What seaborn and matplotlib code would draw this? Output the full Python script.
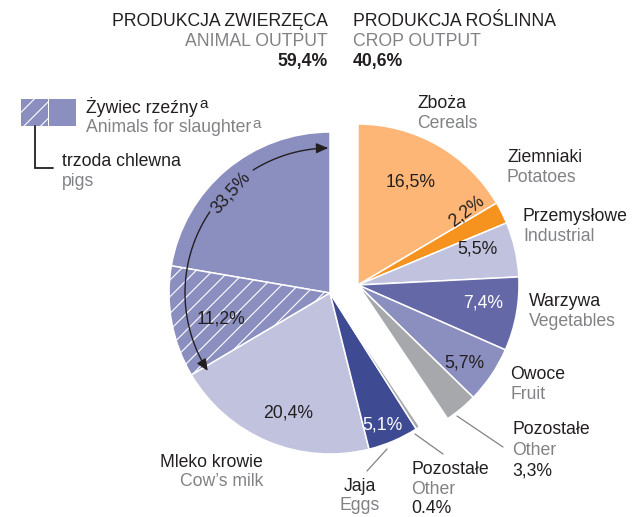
import numpy as np
import matplotlib
matplotlib.use("Agg")
import matplotlib.pyplot as plt
import seaborn as sns
from matplotlib.patches import Rectangle, FancyArrowPatch
from matplotlib.path import Path

# ---------------- data ----------------
animal_pl = ["Żywiec rzeźny (bez trzody)", "Trzoda chlewna", "Mleko krowie", "Jaja", "Pozostałe"]
animal_en = ["Animals for slaughter (other)", "Pigs", "Cow’s milk", "Eggs", "Other"]
animal_values = [22.3, 11.2, 20.4, 5.1, 0.4]
animal_colors = ["#8b8fbf", "#8b8fbf", "#c0c2de", "#3e4b93", "#a6a8ab"]

crop_pl = ["Zboża", "Ziemniaki", "Przemysłowe", "Warzywa", "Owoce", "Pozostałe"]
crop_en = ["Cereals", "Potatoes", "Industrial", "Vegetables", "Fruit", "Other"]
crop_values = [16.5, 2.2, 5.5, 7.4, 5.7, 3.3]
crop_colors = ["#fdb676", "#f6921e", "#c0c2de", "#6468a6", "#8b8fbf", "#a6a8ab"]

slaughter_total = 33.5
animal_total = 59.4
crop_total = 40.6

# ---------------- style ----------------
sns.set_style("white")
plt.rcParams["font.family"] = ["Liberation Sans", "DejaVu Sans"]
plt.rcParams["hatch.linewidth"] = 0.8

W, H = 637, 517
BLACK = "#231f20"
GREY = "#808285"
FS = 12.7

fig = plt.figure(figsize=(W / 100, H / 100), dpi=100)
ax = fig.add_axes([0, 0, 1, 1])

def P(x, y):
    return (x, H - y)

R = 161
c_animal = P(330, 293)
c_crop = P(358, 285)

wp = dict(edgecolor="white", linewidth=1.1)
aw, _ = ax.pie(animal_values + [crop_total], colors=animal_colors + ["none"],
               startangle=90, counterclock=True, center=c_animal, radius=R,
               wedgeprops=wp)
aw[-1].set_visible(False)
aw[1].set_hatch("//")

cw, _ = ax.pie(crop_values + [animal_total], colors=crop_colors + ["none"],
               startangle=90, counterclock=False, center=c_crop, radius=R,
               wedgeprops=wp)
cw[-1].set_visible(False)

ax.set_xlim(0, W)
ax.set_ylim(0, H)
ax.set_aspect("equal")
ax.axis("off")

def T(x, y, s, color=BLACK, ha="left", va="baseline", **kw):
    return ax.text(x, H - y, s, color=color, ha=ha, va=va, fontsize=kw.pop("fs", FS), **kw)

# ---------------- header ----------------
T(328, 26, "PRODUKCJA ZWIERZĘCA", ha="right")
T(328, 46, "ANIMAL OUTPUT", color=GREY, ha="right")
T(328, 66, f"{animal_total:.1f}%".replace(".", ","), ha="right", fontweight="bold")
T(353, 26, "PRODUKCJA ROŚLINNA")
T(353, 46, "CROP OUTPUT", color=GREY)
T(353, 66, f"{crop_total:.1f}%".replace(".", ","), fontweight="bold")

# ---------------- legend ----------------
ax.add_patch(Rectangle(P(21, 126), 27, 27, facecolor=animal_colors[1], edgecolor="white",
                       linewidth=0.0, hatch="//"))
ax.add_patch(Rectangle(P(49, 126), 27, 27, facecolor=animal_colors[0], edgecolor="none"))
ax.plot([35, 35, 53], [H - 126, H - 168, H - 168], color=BLACK, lw=1.3,
        solid_joinstyle="miter")
t1 = T(86, 113.3, "Żywiec rzeźny")
t2 = T(86, 132.5, "Animals for slaughter", color=GREY)
T(62, 166, "trzoda chlewna")
T(62, 185.5, "pigs", color=GREY)

fig.canvas.draw()
rend = fig.canvas.get_renderer()
for t, col, base in [(t1, BLACK, 107.7), (t2, GREY, 127.5)]:
    bb = t.get_window_extent(rend)
    T(bb.x1 + 1.5, base, "a", color=col, fs=11)

def pct(v):
    return f"{v:.1f}%".replace(".", ",")

# ---------------- percentage labels ----------------
T(411, 186.5, pct(crop_values[0]), ha="center")
T(467, 211, pct(crop_values[1]), ha="center", va="center", rotation=38, rotation_mode="anchor")
T(477.5, 253, pct(crop_values[2]), ha="center")
T(483.5, 308, pct(crop_values[3]), ha="center", color="white")
T(464.5, 367, pct(crop_values[4]), ha="center")
T(221, 323.5, pct(animal_values[1]), ha="center")
T(288, 417, pct(animal_values[2]), ha="center")
T(382.5, 430, pct(animal_values[3]), ha="center", color="white")
T(231, 192.5, pct(slaughter_total), ha="center", va="center", rotation=48,
  rotation_mode="anchor")

# curved arrow for 33.5%
ra = 145
for a0, a1 in [(122, 90.8), (146, 212.5)]:
    th = np.radians(np.linspace(a0, a1, 60))
    verts = np.column_stack([c_animal[0] + ra * np.cos(th), c_animal[1] + ra * np.sin(th)])
    ax.add_patch(FancyArrowPatch(path=Path(verts), arrowstyle="-|>,head_length=0.5,head_width=0.22",
                                 mutation_scale=14, color=BLACK, lw=1.0))

# ---------------- category labels ----------------
T(417, 108.3, crop_pl[0]); T(417, 128, crop_en[0], color=GREY)
T(507, 162.3, crop_pl[1]); T(507, 182, crop_en[1], color=GREY)
T(523, 221, crop_pl[2]); T(523, 241, crop_en[2], color=GREY)
T(529, 306, crop_pl[3]); T(529, 326, crop_en[3], color=GREY)
T(510, 379.3, crop_pl[4]); T(510, 399, crop_en[4], color=GREY)
T(512.5, 434.5, crop_pl[5]); T(512.5, 455, crop_en[5], color=GREY)
T(512.5, 475.5, pct(crop_values[5]))

T(263, 466.7, animal_pl[2], ha="right"); T(263, 486.5, animal_en[2], color=GREY, ha="right")
T(360, 491, animal_pl[3], ha="center"); T(360, 510.5, animal_en[3], color=GREY, ha="center")
T(411.5, 474.5, animal_pl[4]); T(411.5, 494, animal_en[4], color=GREY)
T(411.5, 513, f"{animal_values[4]:.1f}%")

# leader lines
for (x0, y0), (x1, y1) in [((387, 449), (367, 471)), ((415, 434), (443, 454)),
                           ((457, 416), (503, 447))]:
    ax.plot([x0, x1], [H - y0, H - y1], color=GREY, lw=0.9)

fig.savefig("out.png", dpi=100)
